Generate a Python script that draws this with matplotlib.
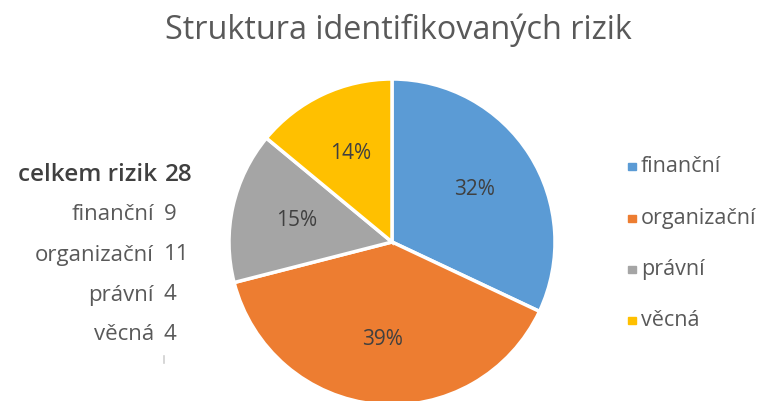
import matplotlib
matplotlib.use("Agg")
import matplotlib.pyplot as plt
from matplotlib.lines import Line2D

plt.rcParams['font.family'] = ['Open Sans', 'DejaVu Sans']

categories = ["finanční", "organizační", "právní", "věcná"]
counts = [9, 11, 4, 4]
shares = [32, 39, 15, 14]
total_label = "celkem rizik"
total = 28
colors = ["#5B9BD5", "#ED7D31", "#A5A5A5", "#FFC000"]

W, H = 760, 401
fig = plt.figure(figsize=(W / 100, H / 100), dpi=100)

# pie axes: centre (392, 242) px, radius ~163 px
cx, cy, half = 392, 242, 170
ax = fig.add_axes([(cx - half) / W, (H - cy - half) / H, 2 * half / W, 2 * half / H])
wedges, texts, autotexts = ax.pie(
    shares, colors=colors, startangle=90, counterclock=False,
    radius=163 / half, autopct=lambda p: f"{p:.0f}%", pctdistance=0.6,
    wedgeprops=dict(edgecolor="white", linewidth=2.5),
    textprops=dict(color="#404040", fontsize=15))
ax.set_xlim(-1, 1)
ax.set_ylim(-1, 1)
ax.set_aspect("equal")
ax.axis("off")

fig.text(398 / W, 1 - 30 / H, "Struktura identifikovaných rizik",
         ha="center", va="center", fontsize=23.3, color="#595959")

# summary table on the left
ys = [175, 215, 255, 295, 335]
fig.text(157 / W, 1 - ys[0] / H, total_label, ha="right", va="center",
         fontsize=17.5, color="#404040", fontweight="semibold")
fig.text(165 / W, 1 - ys[0] / H, str(total), ha="left", va="center",
         fontsize=17.5, color="#404040", fontweight="semibold")
for y, name, n in zip(ys[1:], categories, counts):
    fig.text(154 / W, 1 - y / H, name, ha="right", va="center",
             fontsize=16, color="#595959")
    fig.text(164 / W, 1 - y / H, str(n), ha="left", va="center",
             fontsize=16, color="#595959")
fig.lines.append(Line2D([164 / W, 164 / W], [1 - 356 / H, 1 - 363 / H],
                        transform=fig.transFigure, color="#d0d0d0", lw=1.2))

# legend
leg_ys = [167, 219, 270, 321]
for y, name, c in zip(leg_ys, categories, colors):
    fig.patches.append(plt.Rectangle((628 / W, 1 - (y + 3) / H), 7.5 / W, 7.5 / H,
                                     transform=fig.transFigure, color=c))
    fig.text(641 / W, 1 - y / H, name, ha="left", va="center",
             fontsize=15.5, color="#595959")

fig.savefig("out.png", dpi=100)
